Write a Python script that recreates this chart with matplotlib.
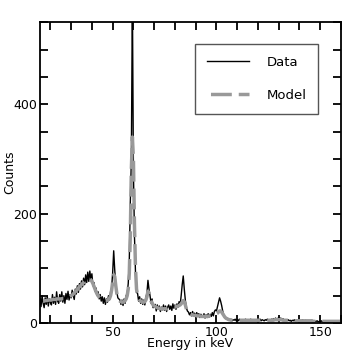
import matplotlib
matplotlib.use("Agg")
import matplotlib.pyplot as plt
import numpy as np
from matplotlib.ticker import MultipleLocator

# energy grid, 0.5 keV bins
energy = np.arange(15.0, 160.5, 0.5)

counts = [
    45, 30, 50, 36, 28, 46, 34, 49, 31, 44,
    38, 33, 52, 36, 47, 34, 57, 40, 36, 52,
    40, 57, 38, 50, 36, 54, 43, 58, 42, 52,
    46, 60, 50, 43, 62, 53, 68, 56, 72, 62,
    77, 66, 82, 70, 88, 74, 93, 76, 95, 80,
    90, 68, 74, 58, 64, 50, 57, 44, 52, 40,
    48, 36, 46, 34, 44, 38, 50, 42, 57, 64,
    92, 132, 97, 70, 57, 46, 44, 42, 34, 42,
    32, 44, 36, 50, 54, 72, 112, 220, 300, 600,
    280, 160, 92, 56, 54, 40, 48, 36, 44, 34,
    42, 33, 47, 54, 78, 62, 50, 36, 44, 28,
    30, 34, 22, 33, 25, 31, 21, 29, 24, 33,
    23, 31, 21, 29, 33, 25, 31, 23, 35, 27,
    33, 25, 35, 29, 39, 33, 50, 70, 86, 62,
    42, 28, 22, 20, 15, 19, 13, 21, 14, 18,
    11, 19, 13, 17, 10, 16, 12, 11, 17, 9,
    15, 10, 17, 11, 16, 12, 19, 13, 21, 24,
    22, 30, 38, 46, 40, 32, 22, 15, 10, 8,
    9, 6, 8, 5, 7, 4, 6, 5, 7, 4,
    6, 4, 7, 5, 6, 3, 6, 5, 7, 4,
    5, 6, 4, 7, 5, 6, 4, 5, 6, 4,
    6, 5, 7, 4, 6, 5, 4, 6, 5, 7,
    5, 6, 4, 7, 6, 8, 7, 9, 6, 8,
    10, 7, 9, 6, 8, 5, 6, 4, 5, 6,
    4, 5, 3, 5, 4, 6, 3, 5, 4, 3,
    5, 3, 4, 6, 3, 4, 5, 3, 4, 3,
    4, 3, 5, 2, 4, 3, 3, 4, 2, 3,
    3, 4, 2, 3, 3, 2, 4, 3, 2, 3,
    3, 2, 3, 4, 2, 3, 3, 2, 3, 2,
    3,
]

model = [
    40, 39, 39, 40, 40, 41, 41, 41, 42, 42,
    42, 42, 43, 43, 43, 43, 44, 44, 44, 44,
    44, 44, 45, 45, 45, 46, 46, 47, 48, 49,
    50, 51, 53, 55, 57, 59, 61, 64, 66, 68,
    70, 72, 74, 76, 78, 79, 80, 81, 80, 79,
    76, 72, 67, 62, 57, 53, 50, 47, 45, 44,
    43, 42, 41, 41, 41, 42, 43, 45, 50, 60,
    75, 88, 85, 68, 54, 46, 42, 40, 39, 38,
    38, 39, 41, 44, 50, 62, 90, 160, 280, 340,
    300, 180, 100, 62, 50, 45, 42, 40, 39, 38,
    38, 39, 42, 48, 58, 55, 45, 40, 36, 33,
    31, 30, 29, 28, 27, 27, 26, 26, 26, 26,
    26, 26, 26, 26, 27, 27, 27, 28, 28, 29,
    29, 30, 30, 31, 32, 33, 35, 38, 41, 39,
    33, 26, 21, 18, 17, 16, 15, 15, 14, 14,
    14, 13, 13, 13, 13, 12, 12, 12, 12, 12,
    12, 12, 12, 13, 13, 13, 14, 14, 15, 16,
    17, 18, 20, 22, 22, 20, 17, 14, 11, 9,
    8, 7, 6, 6, 5, 5, 5, 5, 5, 5,
    5, 5, 5, 5, 5, 5, 5, 5, 5, 5,
    5, 5, 5, 5, 5, 5, 5, 5, 5, 5,
    5, 5, 5, 5, 5, 5, 5, 5, 5, 5,
    5, 5, 5, 5, 5, 5, 6, 6, 6, 6,
    6, 6, 6, 6, 5, 5, 5, 5, 5, 5,
    5, 4, 4, 4, 4, 4, 4, 4, 4, 4,
    4, 4, 4, 4, 4, 4, 4, 4, 4, 4,
    4, 4, 4, 3, 3, 3, 3, 3, 3, 3,
    3, 3, 3, 3, 3, 3, 3, 3, 3, 3,
    3, 3, 3, 3, 3, 3, 3, 3, 3, 3,
    3,
]

fig = plt.figure(figsize=(3.46, 3.51), dpi=100)
ax = fig.add_axes([0.1156, 0.0798, 0.87, 0.857])

ax.plot(energy, counts, color="black", lw=1.0, label="Data")
ax.plot(energy, model, color="#999999", lw=2.5, linestyle=(7, (6, 2)), label="Model")

ax.set_xlim(15, 160)
ax.set_ylim(0, 550)
ax.xaxis.set_major_locator(MultipleLocator(50))
ax.xaxis.set_minor_locator(MultipleLocator(10))
ax.yaxis.set_major_locator(MultipleLocator(200))
ax.yaxis.set_minor_locator(MultipleLocator(50))
ax.tick_params(which="both", direction="in", top=True, right=True,
               length=6, width=1.3, labelsize=9, pad=2)
for s in ax.spines.values():
    s.set_linewidth(1.3)

ax.set_xlabel("Energy in keV", fontsize=9, labelpad=-1)
ax.set_ylabel("Counts", fontsize=9)
ax.yaxis.set_label_coords(-0.08, 0.5)

leg = ax.legend(loc="upper left", bbox_to_anchor=(0.515, 0.927), borderaxespad=0,
                fontsize=9.5, fancybox=False, handlelength=3.2, labelspacing=1.5,
                borderpad=0.9, handletextpad=1.3, framealpha=1)
leg.get_frame().set_edgecolor("#555555")
leg.get_frame().set_linewidth(1.0)

fig.savefig("out.png", dpi=100)
